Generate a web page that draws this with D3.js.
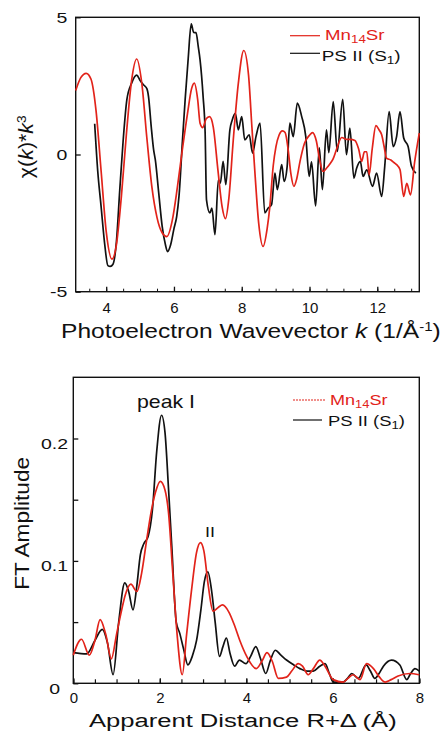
<!DOCTYPE html>
<html>
<head>
<meta charset="utf-8">
<script src="https://cdn.jsdelivr.net/npm/d3@7"></script>
<style>
  html, body { margin: 0; padding: 0; background: #fff; }
  svg { display: block; }
</style>
</head>
<body>
<svg id="chart" width="444" height="732"></svg>
<script>
// ── Data: EXAFS k-space (top) ───────────────────────────────────────────────
const kMn = [3.1,3.25,3.41,3.55,3.7,3.85,4.0,4.17,4.3,4.45,4.6,4.75,4.9,5.05,5.2,5.35,5.5,5.65,5.79,5.95,
  6.1,6.25,6.4,6.52,6.6,6.7,6.77,6.85,6.95,7.05,7.16,7.3,7.42,7.52,7.62,7.75,7.9,8.06,8.2,8.3,8.39,8.5,
  8.63,8.75,8.83,8.93,9.01,9.1,9.2,9.28,9.37,9.45,9.54,9.62,9.72,9.85,10.0,10.09,10.2,10.3,10.4,10.5,
  10.6,10.7,10.8,10.95,11.1,11.2,11.34,11.45,11.54,11.62,11.69,11.76,11.85,11.96,12.05,12.13,12.2,
  12.27,12.4,12.5,12.57,12.67,12.78,12.87,12.98,13.1,13.24];
const chiMn = [2.33,2.8,2.96,2.75,1.6,-0.6,-2.8,-3.81,-3.3,-1.5,0.8,2.7,3.48,2.6,0.6,-1.2,-2.3,-2.85,-2.99,-2.4,
  -1.2,0.2,1.5,2.4,2.6,2.0,1.14,0.98,1.3,1.38,1.0,-0.6,-1.9,-2.34,-1.6,0.53,2.6,3.79,2.9,1.0,-0.68,-2.5,
  -3.35,-2.7,-1.89,-0.4,0.29,0.7,0.86,0.8,0.17,-0.7,-1.16,-0.9,-0.25,0.4,0.7,0.8,0.5,-0.2,-0.62,-0.5,
  -0.35,-0.15,0.2,0.62,0.55,0.55,0.51,0.2,-0.25,0.1,0.1,-0.74,0.2,1.05,0.9,0.72,0.3,
  -0.13,-0.2,-0.3,-0.37,-0.55,-1.53,-1.05,-1.47,-0.3,0.78];

const kPS = [3.66,3.75,3.85,3.95,4.05,4.12,4.2,4.3,4.4,4.5,4.61,4.75,4.9,5.0,5.1,5.2,5.25,5.33,5.4,5.45,
  5.55,5.65,5.75,5.81,5.9,6.0,6.08,6.15,6.25,6.33,6.42,6.51,6.58,6.65,6.72,6.77,6.86,6.92,6.96,7.06,
  7.12,7.21,7.31,7.37,7.45,7.53,7.65,7.72,7.81,7.9,8.0,8.09,8.22,8.32,8.42,8.54,8.68,8.78,8.88,8.98,
  9.05,9.18,9.25,9.34,9.42,9.52,9.64,9.77,9.89,9.99,10.06,10.18,10.29,10.38,10.5,10.57,10.7,10.82,
  10.98,11.09,11.19,11.31,11.39,11.5,11.58,11.69,11.86,11.98,12.13,12.22,12.35,12.47,12.57,12.67,
  12.78,12.91,13.01,13.14];
const chiPS = [1.12,-0.6,-1.9,-3.2,-4.05,-4.08,-4.0,-3.2,-1.3,0.5,2.0,2.6,2.89,2.7,2.54,2.4,2.1,1.0,0.17,-0.2,
  -1.4,-2.6,-3.3,-3.54,-3.3,-2.7,-2.26,-1.5,0.5,2.0,3.5,4.76,4.45,4.44,3.9,3.45,2.11,0.78,-1.65,-2.13,
  -1.95,-2.92,-0.92,-1.04,-0.25,-1.1,0.9,1.26,1.5,0.9,1.38,0.53,0.72,0.05,0.65,1.14,-2.13,-1.95,-1.83,-0.68,
  -1.28,-0.37,-0.98,-0.44,1.14,0.65,1.87,1.38,0.65,-0.8,-0.27,-1.87,0.24,-1.28,0.9,0.07,1.93,0.11,
  2.01,-0.01,0.96,-0.86,-0.5,-0.25,-0.8,-0.56,-1.16,-0.68,-1.53,-0.43,1.56,0.29,0.65,1.56,
  0.6,0.29,-0.43,-0.68];

// ── Data: Fourier transform (bottom) ────────────────────────────────────────
const rMn = [0,0.19,0.37,0.5,0.62,0.75,0.88,1.0,1.1,1.2,1.33,1.47,1.58,1.7,1.8,1.9,2.01,2.12,2.2,2.3,2.4,
  2.52,2.62,2.74,2.85,2.94,3.02,3.12,3.23,3.35,3.45,3.6,3.72,3.85,4.01,4.23,4.36,4.48,4.6,4.74,4.93,
  5.05,5.2,5.3,5.43,5.55,5.7,5.82,6.01,6.24,6.35,6.47,6.63,6.78,6.94,7.08,7.21,7.35,7.51,7.78,8];
const ftMn = [0.023,0.036,0.023,0.035,0.052,0.04,0.02,0.04,0.057,0.072,0.081,0.075,0.09,0.118,0.14,0.156,0.165,0.158,0.14,0.09,0.04,
  0.007,0.04,0.078,0.107,0.115,0.108,0.08,0.059,0.062,0.064,0.058,0.048,0.035,0.022,0.012,0.018,0.025,0.018,0.004,0.005,
  0.01,0.016,0.014,0.007,0.012,0.019,0.014,0.003,0.001,0.004,0.007,0.003,0.016,0.012,0.005,0.001,0.003,0.006,0.008,0.007];

const rPS = [0,0.31,0.5,0.67,0.79,0.92,1.05,1.19,1.28,1.38,1.47,1.55,1.63,1.73,1.83,1.93,2.04,2.12,2.2,2.28,
  2.38,2.46,2.55,2.65,2.75,2.85,2.95,3.03,3.11,3.2,3.28,3.38,3.46,3.54,3.62,3.73,3.84,3.99,4.1,4.22,
  4.33,4.45,4.55,4.67,4.8,4.93,5.1,5.24,5.4,5.55,5.7,5.82,5.92,6.01,6.24,6.34,6.44,6.59,6.77,6.87,
  6.97,7.07,7.17,7.36,7.55,7.71,7.8,7.9,8];
const ftPS = [0.025,0.024,0.035,0.044,0.033,0.007,0.05,0.082,0.075,0.06,0.08,0.105,0.114,0.12,0.142,0.19,0.219,0.205,0.16,0.11,
  0.05,0.041,0.028,0.015,0.022,0.035,0.06,0.083,0.091,0.075,0.05,0.022,0.03,0.037,0.025,0.014,0.019,0.016,0.022,0.03,
  0.02,0.008,0.018,0.027,0.023,0.019,0.015,0.012,0.01,0.01,0.014,0.016,0.008,0.001,0.001,0.004,0.008,0.004,0.015,0.01,
  0.004,0.008,0.014,0.019,0.015,0.003,0.008,0.012,0.01];

// ── Ticks & labels ──────────────────────────────────────────────────────────
const kTicks = [4, 6, 8, 10, 12];
const kMinor = d3.range(3.5, 13.01, 0.5);
const chiTicks = [-5, 0, 5];
const rTicks = [0, 2, 4, 6, 8];
const rMinor = d3.range(0, 8.01, 0.5);
const ftTicks = [0, 0.05, 0.1, 0.15, 0.2];
const ftLabelled = [0, 0.1, 0.2];
const seriesNames = ["Mn", "PS II (S"];

const FONT = "'Liberation Sans', Arial, Helvetica, sans-serif";
const RED = "#e2231a", INK = "#111";

const svg = d3.select("#chart").attr("font-family", FONT);

// Draws text in a group, then stretches it horizontally to span width w.
function fitText(parent, x, y, w, build, rotate = 0) {
  const g = parent.append("g");
  const t = g.append("text");
  build(t);
  const bb = t.node().getBBox();
  const s = w / bb.width;
  t.attr("x", -bb.x - bb.width / 2);
  g.attr("transform", `translate(${x},${y}) rotate(${rotate}) scale(${s},1)`);
  return g;
}

// ── Top panel ───────────────────────────────────────────────────────────────
const xK = d3.scaleLinear().domain([3.1, 13.24]).range([75.7, 419.3]);
const yChi = d3.scaleLinear().domain([-5, 5]).range([291.7, 17.3]);

const gTop = svg.append("g");

gTop.append("g").attr("transform", `translate(0,${yChi.range()[0]})`)
  .call(d3.axisBottom(xK).tickValues(kMinor).tickSizeInner(-3).tickSizeOuter(0).tickFormat(""))
  .call(g => g.select(".domain").remove())
  .call(g => g.selectAll("line").attr("stroke", INK));

gTop.append("g").attr("transform", `translate(0,${yChi.range()[0]})`)
  .call(d3.axisBottom(xK).tickValues(kTicks).tickSizeInner(-5).tickSizeOuter(0).tickPadding(11))
  .call(g => g.select(".domain").remove())
  .call(g => g.attr("font-family", FONT).attr("font-size", 15))
  .call(g => g.selectAll("line").attr("stroke", INK).attr("stroke-width", 1.3))
  .call(g => g.selectAll("text").attr("fill", INK));

gTop.append("g").attr("transform", `translate(${xK.range()[0]},0)`)
  .call(d3.axisLeft(yChi).tickValues(chiTicks).tickSizeInner(-5).tickSizeOuter(0).tickPadding(6.5)
    .tickFormat(d => d < 0 ? "-" + Math.abs(d) : d))
  .call(g => g.select(".domain").remove())
  .call(g => g.attr("font-family", FONT).attr("font-size", 15))
  .call(g => g.selectAll("line").attr("stroke", INK).attr("stroke-width", 1.3))
  .call(g => g.selectAll("text").attr("fill", INK).attr("transform", "scale(1.3,1)"));

gTop.append("rect")
  .attr("x", xK.range()[0]).attr("y", yChi.range()[1])
  .attr("width", xK.range()[1] - xK.range()[0]).attr("height", yChi.range()[0] - yChi.range()[1])
  .attr("fill", "none").attr("stroke", INK).attr("stroke-width", 1.4);

const lineK = (ks, vs) => d3.line()
  .x((d, i) => xK(ks[i])).y(d => yChi(d))
  .curve(d3.curveMonotoneX)(vs);

gTop.append("path").attr("d", lineK(kPS, chiPS))
  .attr("fill", "none").attr("stroke", INK).attr("stroke-width", 1.7).attr("stroke-linejoin", "round");
gTop.append("path").attr("d", lineK(kMn, chiMn))
  .attr("fill", "none").attr("stroke", RED).attr("stroke-width", 1.7).attr("stroke-linejoin", "round");

// legend
gTop.append("line").attr("x1", 290).attr("x2", 320).attr("y1", 35.7).attr("y2", 35.7)
  .attr("stroke", RED).attr("stroke-width", 1.2);
fitText(gTop, 355, 40, 60, t => {
  t.attr("font-size", 14).attr("fill", RED).text(seriesNames[0]);
  t.append("tspan").attr("font-size", 10).attr("dy", 3).text("14");
  t.append("tspan").attr("dy", -3).text("Sr");
});
gTop.append("line").attr("x1", 290).attr("x2", 320).attr("y1", 53.3).attr("y2", 53.3)
  .attr("stroke", INK).attr("stroke-width", 1.2);
fitText(gTop, 361.2, 60.7, 79, t => {
  t.attr("font-size", 14).attr("fill", INK).text(seriesNames[1]);
  t.append("tspan").attr("font-size", 10).attr("dy", 3).text("1");
  t.append("tspan").attr("dy", -3).text(")");
});

// axis titles
fitText(svg, 251, 338.3, 380, t => {
  t.attr("font-size", 19.5).attr("fill", INK).text("Photoelectron Wavevector ");
  t.append("tspan").attr("font-style", "italic").text("k");
  t.append("tspan").text(" (1/Å");
  t.append("tspan").attr("font-size", 12).attr("dy", -7).text("-1");
  t.append("tspan").attr("dy", 7).text(")");
});
fitText(svg, 33, 146.7, 63, t => {
  t.attr("font-size", 20).attr("fill", INK);
  t.append("tspan").text("χ(");
  t.append("tspan").attr("font-style", "italic").text("k");
  t.append("tspan").text(")*");
  t.append("tspan").attr("font-style", "italic").text("k");
  t.append("tspan").attr("font-size", 13).attr("dy", -7).text("3");
}, -90);

// ── Bottom panel ────────────────────────────────────────────────────────────
const xR = d3.scaleLinear().domain([0, 8]).range([73.3, 419.3]);
const yFT = d3.scaleLinear().domain([0, 0.25]).range([683.3, 377.3]);

const gBot = svg.append("g");

gBot.append("g").attr("transform", `translate(0,${yFT.range()[0]})`)
  .call(d3.axisBottom(xR).tickValues(rMinor).tickSizeInner(-4).tickSizeOuter(0).tickFormat(""))
  .call(g => g.select(".domain").remove())
  .call(g => g.selectAll("line").attr("stroke", INK).attr("stroke-width", 1.2));

gBot.append("g").attr("transform", `translate(0,${yFT.range()[0]})`)
  .call(d3.axisBottom(xR).tickValues(rTicks).tickSizeInner(-5).tickSizeOuter(0).tickPadding(8.8))
  .call(g => g.select(".domain").remove())
  .call(g => g.attr("font-family", FONT).attr("font-size", 15))
  .call(g => g.selectAll("line").attr("stroke", INK).attr("stroke-width", 1.3))
  .call(g => g.selectAll("text").attr("fill", INK));

gBot.append("g").attr("transform", `translate(${xR.range()[0]},0)`)
  .call(d3.axisLeft(yFT).tickValues(ftTicks).tickSizeInner(-5).tickSizeOuter(0).tickPadding(4)
    .tickFormat(d => ftLabelled.includes(d) ? (d === 0 ? "0" : d3.format(".1f")(d)) : ""))
  .call(g => g.select(".domain").remove())
  .call(g => g.attr("font-family", FONT).attr("font-size", 15))
  .call(g => g.selectAll("line").attr("stroke", INK).attr("stroke-width", 1.3))
  .call(g => g.selectAll("text").attr("fill", INK)
    .attr("transform", d => d === 0 ? "translate(-8,5) scale(1.3,1)" : "translate(0,5) scale(1.3,1)"));

gBot.append("rect")
  .attr("x", xR.range()[0]).attr("y", yFT.range()[1])
  .attr("width", xR.range()[1] - xR.range()[0]).attr("height", yFT.range()[0] - yFT.range()[1])
  .attr("fill", "none").attr("stroke", INK).attr("stroke-width", 1.4);

const lineR = (rs, vs) => d3.line()
  .x((d, i) => xR(rs[i])).y(d => yFT(d))
  .curve(d3.curveMonotoneX)(vs);

gBot.append("path").attr("d", lineR(rPS, ftPS))
  .attr("fill", "none").attr("stroke", INK).attr("stroke-width", 1.7).attr("stroke-linejoin", "round");
gBot.append("path").attr("d", lineR(rMn, ftMn))
  .attr("fill", "none").attr("stroke", RED).attr("stroke-width", 1.7).attr("stroke-linejoin", "round");

// legend
gBot.append("line").attr("x1", 293).attr("x2", 325).attr("y1", 400).attr("y2", 400)
  .attr("stroke", RED).attr("stroke-width", 1.1).attr("stroke-dasharray", "2,1");
fitText(gBot, 359, 405, 58, t => {
  t.attr("font-size", 14).attr("fill", RED).text(seriesNames[0]);
  t.append("tspan").attr("font-size", 10).attr("dy", 3).text("14");
  t.append("tspan").attr("dy", -3).text("Sr");
});
gBot.append("line").attr("x1", 293).attr("x2", 322).attr("y1", 420).attr("y2", 420)
  .attr("stroke", INK).attr("stroke-width", 1.2);
fitText(gBot, 366.5, 425.7, 77, t => {
  t.attr("font-size", 14).attr("fill", INK).text(seriesNames[1]);
  t.append("tspan").attr("font-size", 10).attr("dy", 3).text("1");
  t.append("tspan").attr("dy", -3).text(")");
});

// peak annotations
fitText(gBot, 166, 408.3, 58, t => t.attr("font-size", 18).attr("fill", INK).text("peak I"));
fitText(gBot, 210, 536.7, 10, t => t.attr("font-size", 14).attr("fill", INK).text("II"));

// axis titles
fitText(svg, 243, 726.7, 308, t => {
  t.attr("font-size", 19).attr("fill", INK).text("Apparent Distance R+Δ (Å)");
});
fitText(svg, 29, 523.3, 133, t => {
  t.attr("font-size", 21).attr("fill", INK).text("FT Amplitude");
}, -90);
</script>
</body>
</html>
